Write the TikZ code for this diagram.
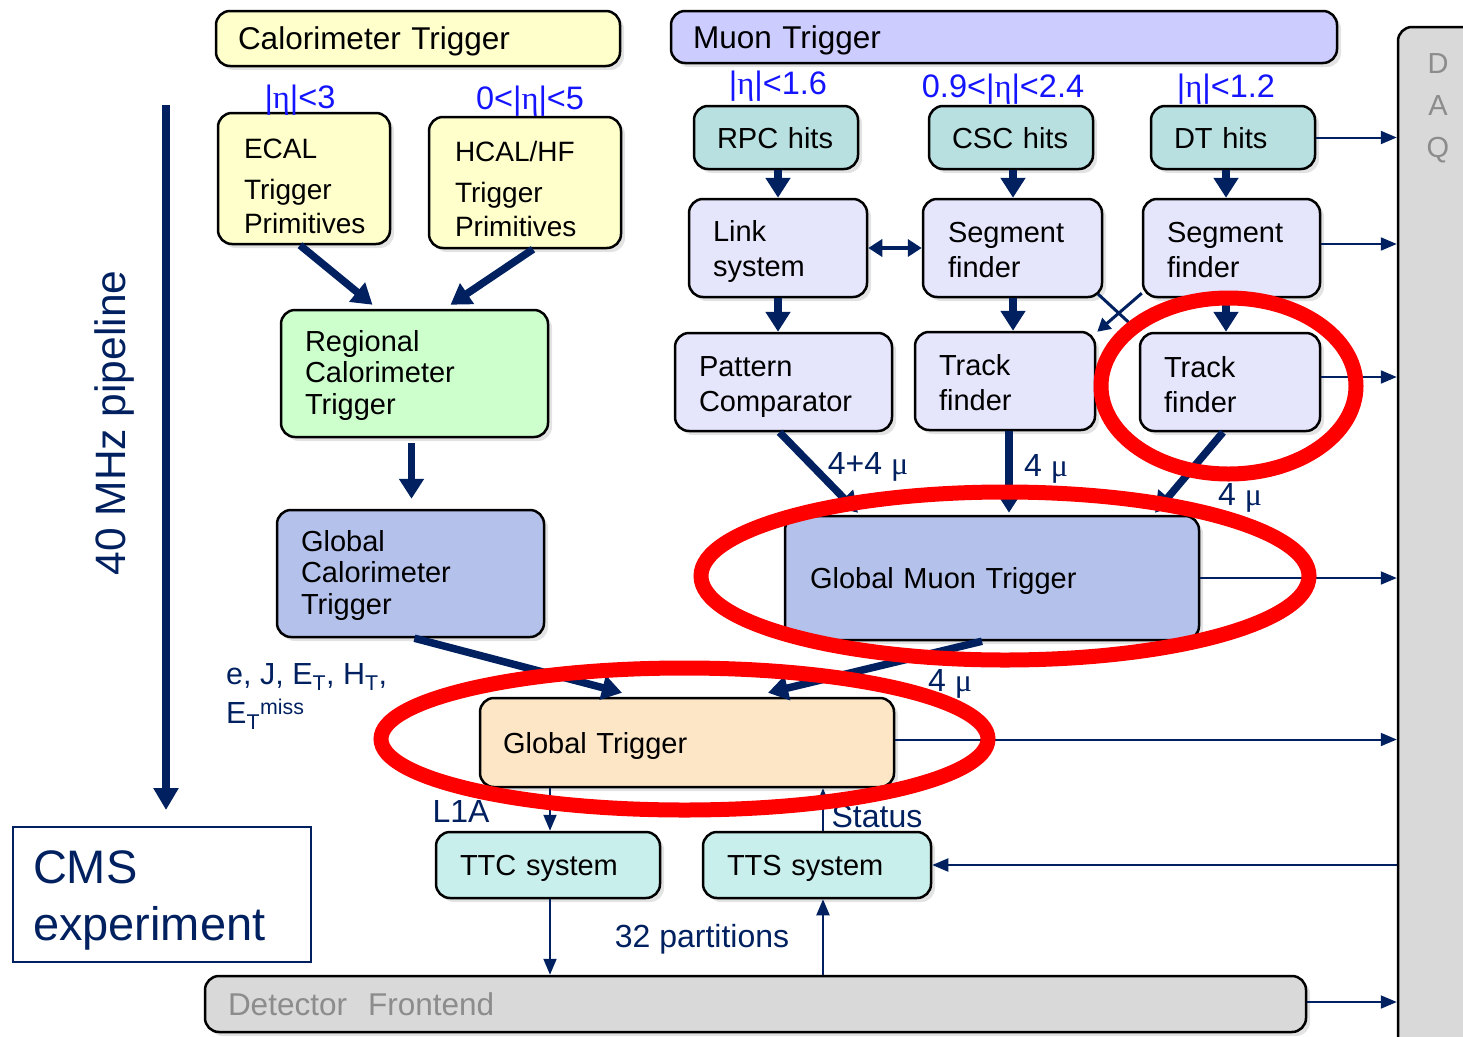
\documentclass[tikz,border=0pt]{standalone}
\usepackage{fontspec}
\setmainfont{Liberation Sans}
\newfontfamily\serifgr{Liberation Serif}
\usetikzlibrary{arrows.meta,shadows,calc}

\definecolor{navy}{RGB}{0,32,96}
\definecolor{etablue}{RGB}{20,20,255}
\definecolor{calofill}{RGB}{255,255,204}
\definecolor{muonfill}{RGB}{204,204,255}
\definecolor{hitfill}{RGB}{184,224,225}
\definecolor{lavfill}{RGB}{229,229,252}
\definecolor{globfill}{RGB}{180,193,235}
\definecolor{rctfill}{RGB}{204,255,204}
\definecolor{gtfill}{RGB}{253,230,198}
\definecolor{ttfill}{RGB}{201,239,236}
\definecolor{grayfill}{RGB}{217,217,217}
\definecolor{graytext}{RGB}{140,140,140}
\definecolor{hlred}{RGB}{255,0,0}

\newcommand\etaS{{\serifgr η}}
\newcommand\muS{{\serifgr μ}}
% invisible strut that sets the height of a node's first line
\newcommand\topstrut[1]{\rule{0pt}{#1pt}}

\begin{document}
\begin{tikzpicture}[x=1pt,y=-1pt,
  box/.style={draw=black, line width=2.5pt, rounded corners=14pt,
    inner xsep=24pt, inner ysep=0pt, align=left,
    font=\fontsize{29}{35}\selectfont,
    drop shadow={shadow xshift=4pt, shadow yshift=-4pt, opacity=0.22}},
  oneline/.style={text depth=0pt},
  etalbl/.style={text=etablue, font=\fontsize{32.5}{36}\selectfont, inner sep=0pt},
  navylbl/.style={text=navy, font=\fontsize{32}{39}\selectfont, inner sep=0pt},
  fat/.style={navy, line width=7.5pt, -{Triangle[width=24pt,length=20pt]}},
  mid/.style={navy, line width=4.5pt},
  cross/.style={navy, line width=3pt},
  thinarrow/.style={navy, line width=2pt, -{Triangle[width=13pt,length=16pt]}},
  hl/.style={draw=hlred, line width=15pt}
]
\useasboundingbox (0,0) rectangle (1463,1036);

% DAQ column on the right
\node[box, fill=grayfill, minimum width=122pt, minimum height=1053pt] (daq) at (1459,553.5) {};
\node[text=graytext, font=\fontsize{29}{42}\selectfont, align=center, inner sep=0pt] (daqtxt) at (1438,108) {D\\A\\Q};

% Calorimeter trigger chain
\node[box, oneline, fill=calofill, inner xsep=22pt, text width=360pt, minimum width=404pt, minimum height=55pt,
      font=\fontsize{31.5}{36}\selectfont] (calo) at (418,38.5) {Calorimeter Trigger};
\node[box, fill=calofill, inner xsep=26pt, text width=120pt, minimum width=172pt, minimum height=131pt,
      font=\fontsize{28}{34}\selectfont] (ecal) at (304,178.5) {\topstrut{35}ECAL\\[7pt]Trigger\\Primitives};
\node[box, fill=calofill, inner xsep=26pt, text width=140pt, minimum width=192pt, minimum height=131pt,
      font=\fontsize{28}{34}\selectfont] (hcal) at (525,182.5) {\topstrut{32.5}HCAL/HF\\[7pt]Trigger\\Primitives};
\node[box, fill=rctfill, text width=219pt, minimum width=267pt, minimum height=127pt,
      font=\fontsize{29}{31.5}\selectfont] (reg) at (414.5,373.5) {\topstrut{25}Regional\\Calorimeter\\Trigger};
\node[box, fill=globfill, text width=219pt, minimum width=267pt, minimum height=127pt,
      font=\fontsize{29}{31.5}\selectfont] (gct) at (410.5,573.5) {\topstrut{25}Global\\Calorimeter\\Trigger};

\node[etalbl] (etaecal) at (300,100) {|\etaS|<3};
\node[etalbl] (etahcal) at (530,101) {0<|\etaS|<5};

% Muon trigger chain
\node[box, oneline, fill=muonfill, inner xsep=22pt, text width=622pt, minimum width=666pt, minimum height=52pt,
      font=\fontsize{31.5}{36}\selectfont] (muon) at (1004,37) {Muon Trigger};
\node[box, oneline, fill=hitfill, inner xsep=23pt, text width=118pt, minimum width=164pt, minimum height=63pt] (rpc) at (776,137.5) {RPC hits};
\node[box, oneline, fill=hitfill, inner xsep=23pt, text width=118pt, minimum width=164pt, minimum height=63pt] (csc) at (1011,137.5) {CSC hits};
\node[box, oneline, fill=hitfill, inner xsep=23pt, text width=118pt, minimum width=164pt, minimum height=63pt] (dt) at (1233,137.5) {DT hits};

\node[etalbl] (etarpc) at (778,86) {|\etaS|<1.6};
\node[etalbl] (etacsc) at (1003,89) {0.9<|\etaS|<2.4};
\node[etalbl] (etadt) at (1226,89) {|\etaS|<1.2};

\node[box, fill=lavfill, text width=130pt, minimum width=178pt, minimum height=98pt] (link) at (778,248) {\topstrut{29}Link\\system};
\node[box, fill=lavfill, inner xsep=25pt, text width=129pt, minimum width=179pt, minimum height=98pt] (segcsc) at (1012.5,248) {\topstrut{25}Segment\\finder};
\node[box, fill=lavfill, text width=129pt, minimum width=177pt, minimum height=98pt] (segdt) at (1231.5,248) {\topstrut{25}Segment\\finder};
\node[box, fill=lavfill, text width=169pt, minimum width=217pt, minimum height=98pt] (pat) at (783.5,382) {\topstrut{31}Pattern\\Comparator};
\node[box, fill=lavfill, text width=132pt, minimum width=180pt, minimum height=98pt] (tcsc) at (1005,381) {\topstrut{25}Track\\finder};
\node[box, fill=lavfill, text width=132pt, minimum width=180pt, minimum height=98pt] (tdt) at (1230,382) {\topstrut{27}Track\\finder};
\node[box, oneline, fill=globfill, inner xsep=25pt, text width=364pt, minimum width=414pt, minimum height=124pt] (gmt) at (992,578) {Global Muon Trigger};

% Global trigger and control systems
\node[box, oneline, fill=gtfill, inner xsep=23pt, text width=368pt, minimum width=414pt, minimum height=89pt] (gt) at (687,742.5) {Global Trigger};
\node[box, oneline, fill=ttfill, text width=176pt, minimum width=224pt, minimum height=66pt] (ttc) at (548,865) {TTC system};
\node[box, oneline, fill=ttfill, text width=180pt, minimum width=228pt, minimum height=66pt] (tts) at (817,865) {TTS system};
\node[box, oneline, fill=grayfill, text=graytext, inner xsep=23pt, text width=1055pt, minimum width=1101pt, minimum height=56pt,
      font=\fontsize{31.5}{36}\selectfont] (fe) at (755.5,1004) {Detector\ \ Frontend};

\node[draw=navy, line width=1.5pt, fill=white, text=navy, align=left, inner xsep=20pt, inner ysep=0pt,
      text width=258pt, minimum width=298pt, minimum height=135pt,
      font=\fontsize{47}{57}\selectfont] (cms) at (162,894.5) {\topstrut{44}CMS\\experiment};

% 40 MHz pipeline
\coordinate (pipetop) at (166,105);
\coordinate (pipebot) at (166,810);
\draw[navy, line width=8pt, -{Triangle[width=24pt,length=22pt]}] (pipetop) -- (pipebot);
\node[text=navy, font=\fontsize{42.5}{48}\selectfont, rotate=90, inner sep=0pt] (pipelbl) at (115,423) {40 MHz pipeline};

% calorimeter data flow
\draw[fat] ([xshift=-4pt]ecal.south) -- ([xshift=-42pt,yshift=4pt]reg.north);
\draw[fat] ([xshift=8pt]hcal.south) -- ([xshift=36pt,yshift=4pt]reg.north);
\draw[fat] ([xshift=-3pt,yshift=-5pt]reg.south) -- ([xshift=-3pt,yshift=10pt]reg.south |- gct.north);
\draw[fat] ([xshift=4pt]gct.south) -- ([xshift=-65pt,yshift=4pt]gt.north);

% muon data flow
\draw[fat] ([xshift=2pt]rpc.south) -- ([xshift=2pt]rpc.south |- link.north);
\draw[fat] ([xshift=2pt]csc.south) -- ([xshift=2pt]csc.south |- segcsc.north);
\draw[fat] ([xshift=-7pt]dt.south) -- ([xshift=-7pt]dt.south |- segdt.north);
\draw[fat] (link.south) -- (link.south |- pat.north);
\draw[fat] ([xshift=0.5pt]segcsc.south) -- ([xshift=0.5pt]segcsc.south |- tcsc.north);
\draw[fat] ([xshift=-5.5pt]segdt.south) -- ([xshift=-5.5pt]segdt.south |- tdt.north);
\draw[mid, {Triangle[width=17pt,length=14pt]}-{Triangle[width=17pt,length=14pt]}] (link.east) -- (segcsc.west);
\draw[cross] ([xshift=-5pt,yshift=4pt]segcsc.south east) -- ($(segcsc.south east)!0.85!(tdt.north west)$);
\draw[cross, -{Triangle[width=14pt,length=13pt]}] ([yshift=5pt]segdt.south west) -- ([xshift=1pt,yshift=-1pt]tcsc.north east);

\draw[fat] ([xshift=-4pt]pat.south) -- ([xshift=-134pt,yshift=2pt]gmt.north);
\draw[fat] ([xshift=4pt]tcsc.south) -- ([xshift=4pt,yshift=2pt]tcsc.south |- gmt.north);
\draw[fat] ([xshift=-7pt]tdt.south) -- ([xshift=163pt,yshift=2pt]gmt.north);
\draw[fat] ([xshift=-10pt]gmt.south) -- ([xshift=81pt,yshift=4pt]gt.north);

\node[navylbl] (mupat) at (868,467) {4+4 \muS};
\node[navylbl] (mucsc) at (1046,469) {4 \muS};
\node[navylbl] (mudt) at (1240,498) {4 \muS};
\node[navylbl] (mugmt) at (950,684) {4 \muS};
\node[navylbl, align=left, anchor=north west, font=\fontsize{30.5}{39}\selectfont] (calolbl) at (226,663)
  {e, J, E\textsubscript{T}, H\textsubscript{T},\\E\textsubscript{T}\textsuperscript{miss}};

% readout into DAQ
\draw[thinarrow] (dt.east) -- (dt.east -| daq.west);
\draw[thinarrow] ([yshift=4pt]segdt.east) -- ([yshift=4pt]segdt.east -| daq.west);
\draw[thinarrow] ([yshift=5pt]tdt.east) -- ([yshift=5pt]tdt.east -| daq.west);
\draw[thinarrow] (gmt.east) -- (gmt.east -| daq.west);
\draw[thinarrow] ([yshift=3pt]gt.east) -- ([yshift=3pt]gt.east -| daq.west);
\draw[thinarrow] ([yshift=2pt]fe.east) -- ([yshift=2pt]fe.east -| daq.west);
\draw[thinarrow] (tts.east -| daq.west) -- (tts.east);

% timing and control
\draw[thinarrow] ([xshift=2pt]ttc.north |- gt.south) -- ([xshift=2pt]ttc.north);
\draw[thinarrow] ([xshift=6pt]tts.north) -- ([xshift=6pt]tts.north |- gt.south);
\draw[thinarrow] ([xshift=2pt]ttc.south) -- ([xshift=2pt]ttc.south |- fe.north);
\draw[thinarrow] ([xshift=6pt]tts.south |- fe.north) -- ([xshift=6pt]tts.south);

\node[navylbl] (l1a) at (461,811) {L1A};
\node[navylbl] (status) at (877,816) {Status};
\node[navylbl] (parts) at (702,939) {32 partitions};

% highlight rings
\draw[hl] (1228.5,386) ellipse [x radius=127.5, y radius=88];
\draw[hl] (1005,576) ellipse [x radius=304, y radius=84];
\draw[hl] (684.5,739) ellipse [x radius=303.5, y radius=71];
\end{tikzpicture}
\end{document}
